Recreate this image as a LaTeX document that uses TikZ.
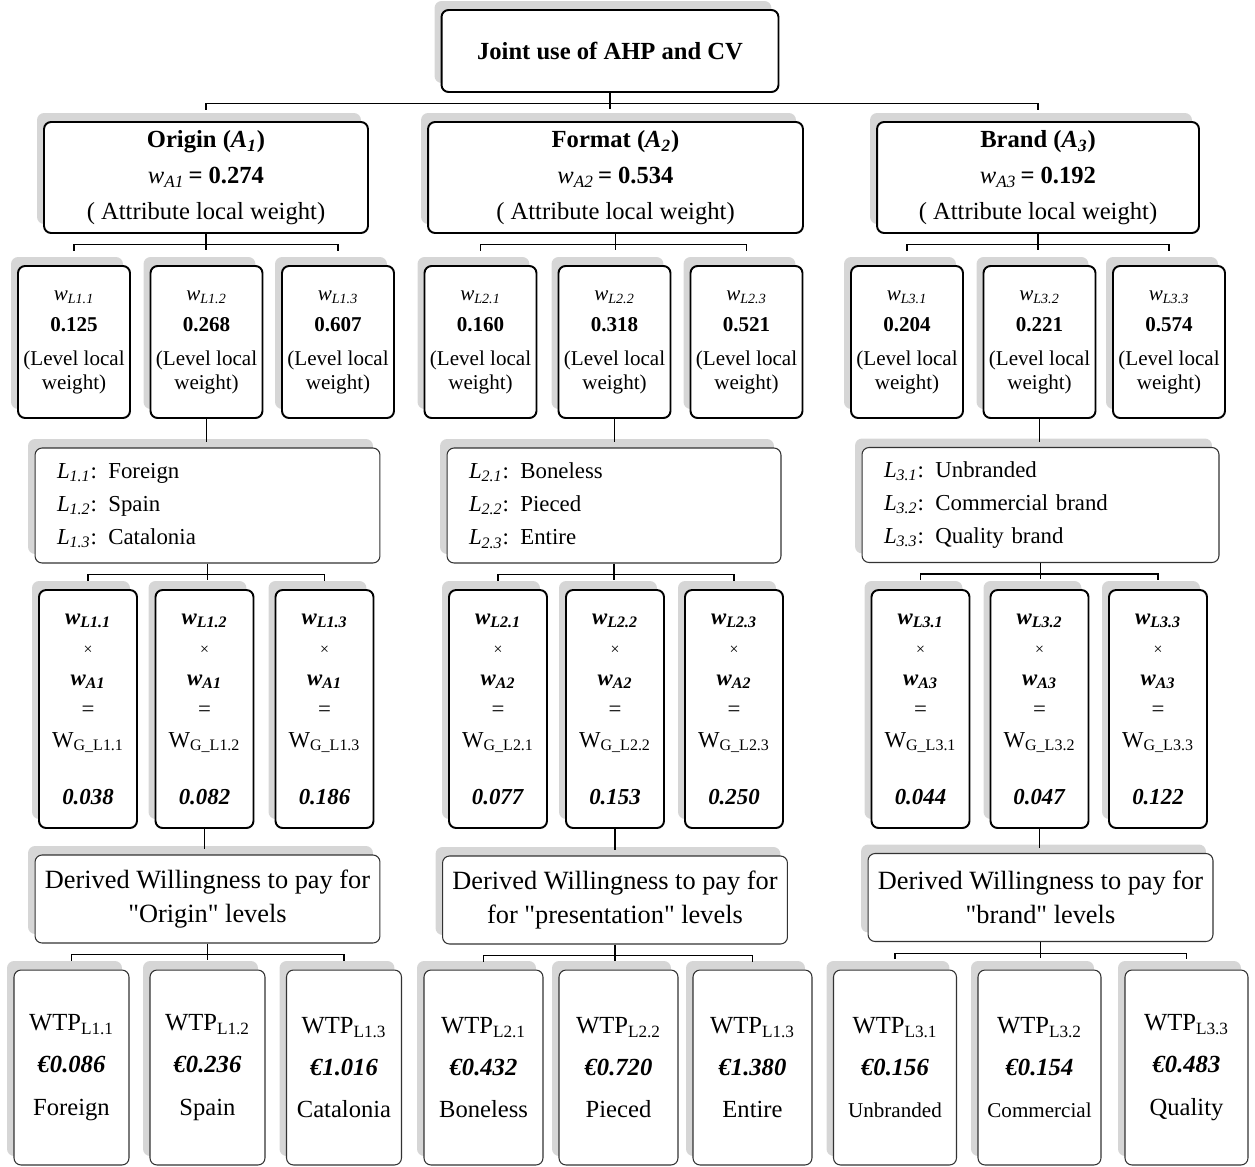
\documentclass[tikz,border=0pt]{standalone}
\usepackage{fontspec}
\setmainfont{Liberation Serif}
\usetikzlibrary{calc,shadows}
\newcommand{\wit}[1]{\textit{w}\textsubscript{\textit{#1}}}
\newcommand{\attr}[3]{\textbf{#1 (\textit{A}\textsubscript{\textit{#2}})}\\\wit{A#2}\,\textbf{= #3}\\( Attribute local weight)}
\newcommand{\lvlw}[2]{\wit{L#1}\\[4pt]\textbf{#2}\\[5.6pt](Level local\\weight)}
\newcommand{\glbw}[3]{\textbf{\wit{L#1}}\\{\small ×}\\\textbf{\wit{A#2}}\\=\\W\textsubscript{G\_L#1}\\[15pt]\textbf{\textit{#3}}}
\newcommand{\wtp}[3]{WTP\textsubscript{L#1}\\\textbf{\textit{€#2}}\\#3}
\newcommand{\lv}[2]{\textit{L}\textsubscript{\textit{#1}}: #2}
\newcommand{\qt}[1]{\textquotedbl#1\textquotedbl}
% parent, first child, last child
\newcommand{\fork}[3]{%
  \path (#1.south) ++(0,11) coordinate (#1fk);
  \draw[link] (#1.south) -- ++(0,16);
  \draw[link] (#2.north |- #1fk) ++(0,6) -- (#2.north |- #1fk) -- (#3.north |- #1fk) -- ++(0,6);}
\tikzset{
  backshadow/.style={general shadow={fill=black!16,shadow xshift=-0.14cm,shadow yshift=0.18cm}},
  box/.style={draw,rounded corners=4pt,fill=white,align=center,inner sep=2pt,backshadow},
  heavy/.style={box,line width=1.1pt},
  light/.style={box,line width=0.6pt,draw=black!80},
  topbox/.style={heavy,minimum width=6.74cm,minimum height=1.64cm,font=\fontsize{14}{17}\selectfont\bfseries},
  attrbox/.style={heavy,minimum height=2.22cm,font=\fontsize{14}{20.5}\selectfont},
  lwbox/.style={heavy,minimum width=2.24cm,minimum height=3.04cm,inner sep=1pt,font=\fontsize{12}{13.7}\selectfont},
  lvbox/.style={light,minimum height=2.3cm,inner xsep=0.44cm,align=left,font=\fontsize{13}{18.8}\selectfont},
  gwbox/.style={heavy,minimum width=1.96cm,minimum height=4.76cm,font=\fontsize{13}{17.5}\selectfont},
  dwbox/.style={light,minimum width=6.9cm,minimum height=1.76cm,font=\fontsize{15}{19.3}\selectfont},
  wtpbox/.style={light,minimum height=3.9cm,font=\fontsize{14}{24}\selectfont},
  link/.style={line width=0.6pt},
}
\begin{document}
\begin{tikzpicture}[x=0.02cm,y=-0.02cm]
  \useasboundingbox (0,0) rectangle (1255,1167);
  \node[topbox] (joint) at (610,51) {Joint use of AHP and CV};
  % attributes
  \node[attrbox,minimum width=6.48cm] (origin) at (206,177.5) {\attr{Origin}{1}{0.274}};
  \node[attrbox,minimum width=7.5cm] (format) at (615.5,177.5) {\attr{Format}{2}{0.534}};
  \node[attrbox,minimum width=6.44cm] (brand) at (1038,177.5) {\attr{Brand}{3}{0.192}};
  \fork{joint}{origin}{brand}
  % level local weights
  \node[lwbox] (wl11) at (74,342) {\lvlw{1.1}{0.125}};
  \node[lwbox] (wl12) at (206.5,342) {\lvlw{1.2}{0.268}};
  \node[lwbox] (wl13) at (338,342) {\lvlw{1.3}{0.607}};
  \node[lwbox] (wl21) at (480.5,342) {\lvlw{2.1}{0.160}};
  \node[lwbox] (wl22) at (614.5,342) {\lvlw{2.2}{0.318}};
  \node[lwbox] (wl23) at (746.5,342) {\lvlw{2.3}{0.521}};
  \node[lwbox] (wl31) at (907,342) {\lvlw{3.1}{0.204}};
  \node[lwbox] (wl32) at (1039.5,342) {\lvlw{3.2}{0.221}};
  \node[lwbox] (wl33) at (1169,342) {\lvlw{3.3}{0.574}};
  \fork{origin}{wl11}{wl13}
  \fork{format}{wl21}{wl23}
  \fork{brand}{wl31}{wl33}
  % levels
  \node[lvbox,text width=6.02cm] (lv1) at (207.5,505.5) {\lv{1.1}{Foreign}\\\lv{1.2}{Spain}\\\lv{1.3}{Catalonia}};
  \node[lvbox,text width=5.8cm] (lv2) at (614,505.5) {\lv{2.1}{Boneless}\\\lv{2.2}{Pieced}\\\lv{2.3}{Entire}};
  \node[lvbox,text width=6.26cm] (lv3) at (1040.5,505) {\lv{3.1}{Unbranded}\\\lv{3.2}{Commercial brand}\\\lv{3.3}{Quality brand}};
  \draw[link] (wl12.south) -- ($(wl12.south |- lv1.north)+(0,-5)$);
  \draw[link] (wl22.south) -- ($(wl22.south |- lv2.north)+(0,-5)$);
  \draw[link] (wl32.south) -- ($(wl32.south |- lv3.north)+(0,-5)$);
  % global weights
  \node[gwbox] (wg11) at (88,709) {\glbw{1.1}{1}{0.038}};
  \node[gwbox] (wg12) at (204.5,709) {\glbw{1.2}{1}{0.082}};
  \node[gwbox] (wg13) at (324.5,709) {\glbw{1.3}{1}{0.186}};
  \node[gwbox] (wg21) at (498,709) {\glbw{2.1}{2}{0.077}};
  \node[gwbox] (wg22) at (615,709) {\glbw{2.2}{2}{0.153}};
  \node[gwbox] (wg23) at (734,709) {\glbw{2.3}{2}{0.250}};
  \node[gwbox] (wg31) at (920.5,709) {\glbw{3.1}{3}{0.044}};
  \node[gwbox] (wg32) at (1039.5,709) {\glbw{3.2}{3}{0.047}};
  \node[gwbox] (wg33) at (1158,709) {\glbw{3.3}{3}{0.122}};
  \fork{lv1}{wg11}{wg13}
  \fork{lv2}{wg21}{wg23}
  \fork{lv3}{wg31}{wg33}
  % derived willingness to pay
  \node[dwbox] (dw1) at (207.5,899) {Derived Willingness to pay for\\\qt{Origin} levels};
  \node[dwbox] (dw2) at (615,900) {Derived Willingness to pay for\\for \qt{presentation} levels};
  \node[dwbox] (dw3) at (1040.5,897.5) {Derived Willingness to pay for\\\qt{brand} levels};
  \draw[link] (wg12.south) -- ($(wg12.south |- dw1.north)+(0,-5)$);
  \draw[link] (wg22.south) -- ($(wg22.south |- dw2.north)+(0,-5)$);
  \draw[link] (wg32.south) -- ($(wg32.south |- dw3.north)+(0,-5)$);
  % WTP per level
  \node[wtpbox,minimum width=2.3cm] (p11) at (71.5,1067.5) {\wtp{1.1}{0.086}{Foreign}};
  \node[wtpbox,minimum width=2.3cm] (p12) at (207.5,1067.5) {\wtp{1.2}{0.236}{Spain}};
  \node[wtpbox,minimum width=2.3cm] (p13) at (344,1067.5) {\wtp{1.3}{1.016}{Catalonia}};
  \node[wtpbox,minimum width=2.38cm] (p21) at (483.5,1067.5) {\wtp{2.1}{0.432}{Boneless}};
  \node[wtpbox,minimum width=2.38cm] (p22) at (618.5,1067.5) {\wtp{2.2}{0.720}{Pieced}};
  \node[wtpbox,minimum width=2.38cm] (p23) at (752.5,1067.5) {\wtp{1.3}{1.380}{Entire}};
  \node[wtpbox,minimum width=2.46cm] (p31) at (895,1067.5) {\wtp{3.1}{0.156}{{\fontsize{12}{14}\selectfont Unbranded}}};
  \node[wtpbox,minimum width=2.46cm] (p32) at (1039.5,1067.5) {\wtp{3.2}{0.154}{{\fontsize{12}{14}\selectfont Commercial}}};
  \node[wtpbox,minimum width=2.46cm] (p33) at (1186.5,1067.5) {\wtp{3.3}{0.483}{Quality}};
  \fork{dw1}{p11}{p13}
  \fork{dw2}{p21}{p23}
  \fork{dw3}{p31}{p33}
\end{tikzpicture}
\end{document}
